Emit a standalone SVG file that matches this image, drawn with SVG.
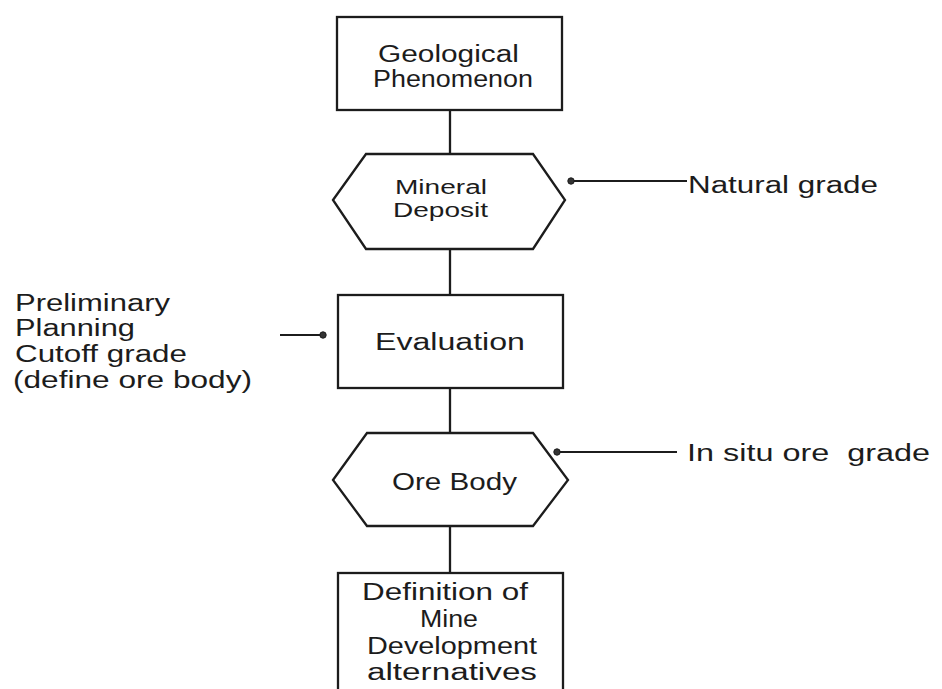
<svg xmlns="http://www.w3.org/2000/svg" width="942" height="689" viewBox="0 0 942 689">
<style>
.s{fill:none;stroke:#1c1c1c;stroke-width:2.3;stroke-linejoin:miter}
.t{font-family:"Liberation Sans",Arial,sans-serif;font-size:23px;fill:#1c1c1c}
.m{font-size:20px}
.d{fill:#333;stroke:#1c1c1c;stroke-width:1}
</style>
<rect width="942" height="689" fill="#ffffff"/>
<g id="connectors">
<line class="s" x1="450" y1="110" x2="450" y2="154"/>
<line class="s" x1="450" y1="249" x2="450" y2="295"/>
<line class="s" x1="450" y1="388" x2="450" y2="433"/>
<line class="s" x1="450" y1="526" x2="450" y2="573"/>
<line class="s" x1="571" y1="181" x2="687" y2="181" style="stroke-width:1.8"/>
<circle class="d" cx="571" cy="181" r="3.2"/>
<line class="s" x1="557" y1="452" x2="677" y2="452" style="stroke-width:1.8"/>
<circle class="d" cx="557" cy="452" r="3.2"/>
<line class="s" x1="280" y1="335" x2="323" y2="335" style="stroke-width:1.8"/>
<circle class="d" cx="323" cy="335" r="3.2"/>
</g>
<g id="geological">
<rect class="s" x="337" y="17" width="225" height="93"/>
<text class="t" x="378" y="62" textLength="141" lengthAdjust="spacingAndGlyphs">Geological</text>
<text class="t" x="373" y="87" textLength="160" lengthAdjust="spacingAndGlyphs">Phenomenon</text>
</g>
<g id="mineral">
<polygon class="s" points="333,200 366,154 533,154 565,200 533,249 366,249"/>
<text class="t m" x="395" y="194" textLength="92" lengthAdjust="spacingAndGlyphs">Mineral</text>
<text class="t m" x="393" y="217" textLength="95" lengthAdjust="spacingAndGlyphs">Deposit</text>
</g>
<g id="evaluation">
<rect class="s" x="338" y="295" width="225" height="93"/>
<text class="t" x="375" y="350" textLength="150" lengthAdjust="spacingAndGlyphs">Evaluation</text>
</g>
<g id="orebody">
<polygon class="s" points="333,480 367,433 533,433 568,480 533,526 367,526"/>
<text class="t" x="392" y="490" textLength="125" lengthAdjust="spacingAndGlyphs">Ore Body</text>
</g>
<g id="definition">
<rect class="s" x="338" y="573" width="225" height="130"/>
<text class="t" x="362" y="600" textLength="166" lengthAdjust="spacingAndGlyphs">Definition of</text>
<text class="t" x="420" y="627" textLength="58" lengthAdjust="spacingAndGlyphs">Mine</text>
<text class="t" x="367" y="654" textLength="170" lengthAdjust="spacingAndGlyphs">Development</text>
<text class="t" x="367" y="680" textLength="170" lengthAdjust="spacingAndGlyphs">alternatives</text>
</g>
<g id="label-left">
<text class="t" x="15" y="311" textLength="155" lengthAdjust="spacingAndGlyphs">Preliminary</text>
<text class="t" x="15" y="336" textLength="120" lengthAdjust="spacingAndGlyphs">Planning</text>
<text class="t" x="15" y="362" textLength="172" lengthAdjust="spacingAndGlyphs">Cutoff grade</text>
<text class="t" x="13" y="388" textLength="239" lengthAdjust="spacingAndGlyphs">(define ore body)</text>
</g>
<g id="label-natural">
<text class="t" x="688" y="193" textLength="190" lengthAdjust="spacingAndGlyphs">Natural grade</text>
</g>
<g id="label-insitu">
<text class="t" x="687" y="461" textLength="243" lengthAdjust="spacingAndGlyphs" xml:space="preserve">In situ ore  grade</text>
</g>
</svg>
